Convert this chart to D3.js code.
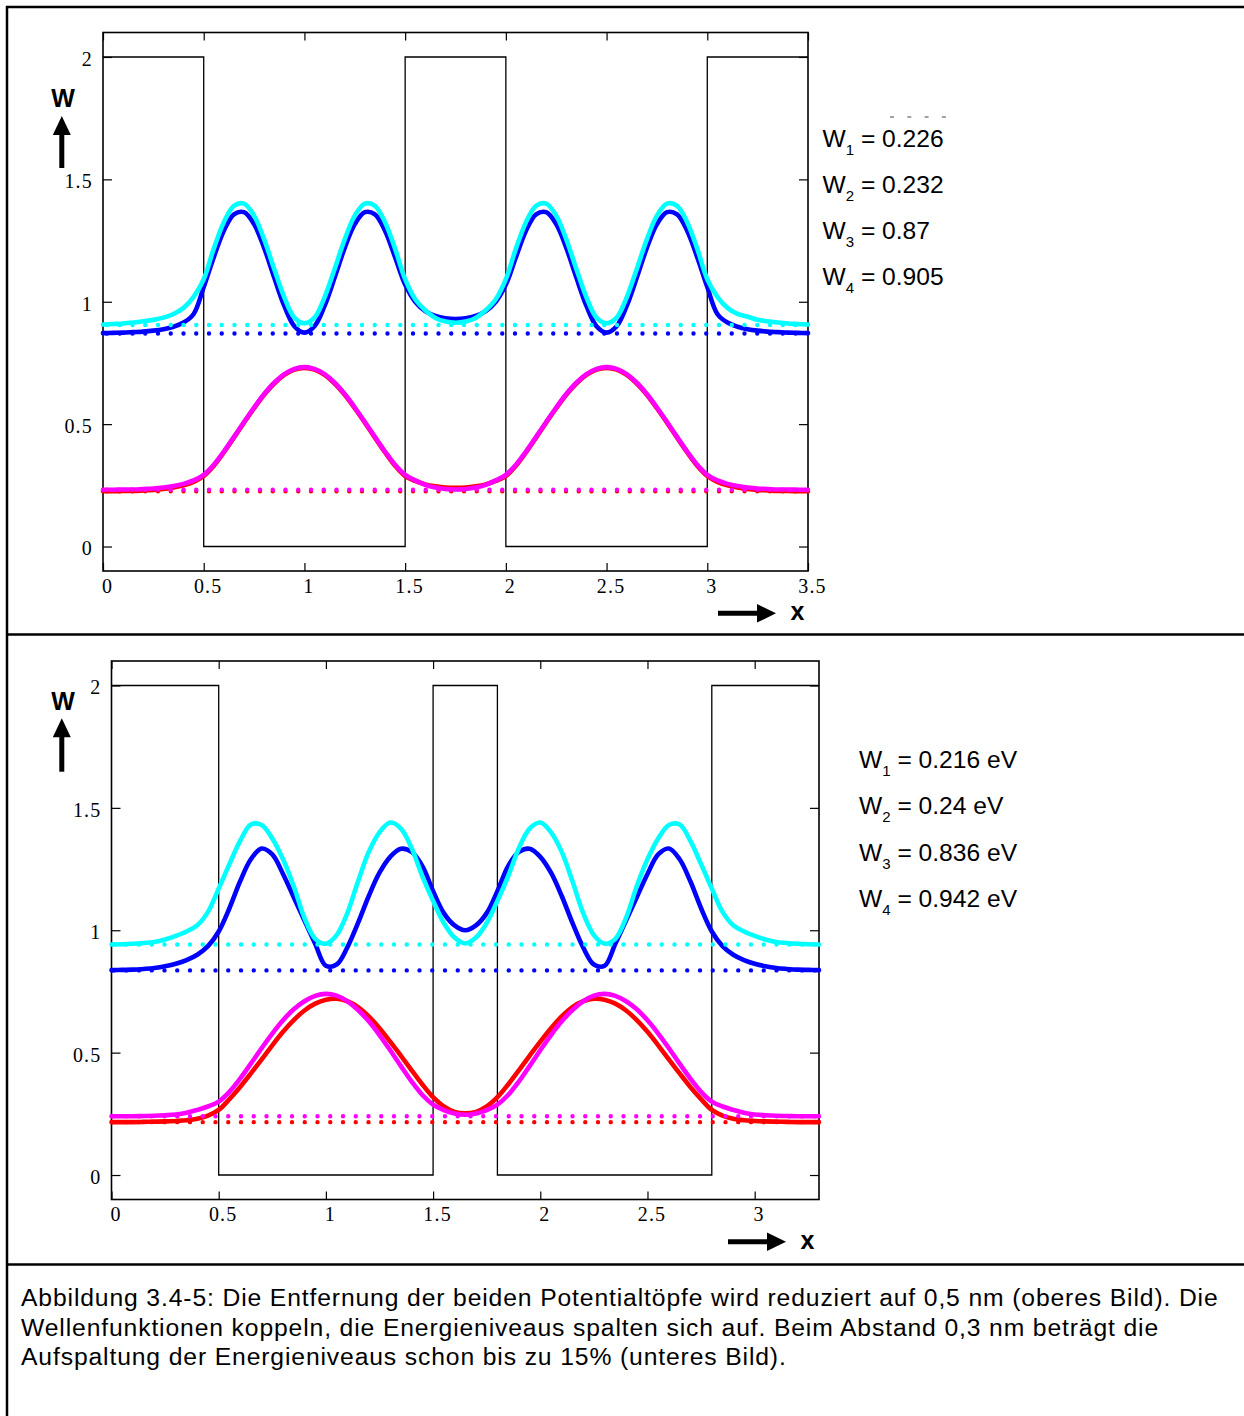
<!DOCTYPE html>
<html><head><meta charset="utf-8">
<script src="https://cdn.jsdelivr.net/npm/d3@7"></script>
<style>
body{margin:0;background:#fff;}
svg{display:block;}
.tick text{font-family:"Liberation Serif","Times New Roman",serif;font-size:20px;letter-spacing:1.2px;fill:#000;}
.tick line{stroke:#000;stroke-width:1.2;}
</style>
</head><body>
<svg id="chart" width="1244" height="1416"></svg>
<script>
// ---------------- data: upper picture (barrier 0.5 nm) ----------------
const topX = [0,0.05,0.1,0.15,0.2,0.25,0.3,0.35,0.4,0.45,0.5,0.55,0.6,0.65,0.7,0.75,0.8,0.85,0.9,0.95,1,
  1.05,1.1,1.15,1.2,1.25,1.3,1.35,1.4,1.45,1.5,1.55,1.6,1.65,1.7,1.75,1.8,1.85,1.9,1.95,2,
  2.05,2.1,2.15,2.2,2.25,2.3,2.35,2.4,2.45,2.5,2.55,2.6,2.65,2.7,2.75,2.8,2.85,2.9,2.95,3,
  3.05,3.1,3.15,3.2,3.25,3.3,3.35,3.4,3.45,3.5];
const topW1 = [0.226,0.226,0.227,0.227,0.229,0.231,0.235,0.241,0.25,0.264,0.288,0.33,0.385,0.445,0.506,0.565,0.62,0.666,0.701,0.723,0.73,
  0.723,0.701,0.666,0.62,0.565,0.506,0.445,0.385,0.33,0.288,0.268,0.254,0.246,0.241,0.24,0.241,0.246,0.254,0.268,0.288,
  0.33,0.385,0.445,0.506,0.565,0.62,0.666,0.701,0.723,0.73,0.723,0.701,0.666,0.62,0.565,0.506,0.445,0.385,0.33,0.288,
  0.264,0.25,0.241,0.235,0.231,0.229,0.227,0.227,0.226,0.226];
const topW2 = [0.232,0.232,0.233,0.233,0.235,0.237,0.241,0.247,0.256,0.27,0.293,0.334,0.388,0.448,0.509,0.568,0.623,0.669,0.704,0.726,0.733,
  0.726,0.704,0.669,0.623,0.568,0.509,0.448,0.388,0.334,0.293,0.27,0.252,0.241,0.235,0.233,0.235,0.241,0.252,0.27,0.293,
  0.334,0.388,0.448,0.509,0.568,0.623,0.669,0.704,0.726,0.733,0.726,0.704,0.669,0.623,0.568,0.509,0.448,0.388,0.334,0.293,
  0.27,0.256,0.247,0.241,0.237,0.235,0.233,0.233,0.232,0.232];
const topW3 = [0.872,0.873,0.874,0.876,0.878,0.882,0.888,0.898,0.915,0.95,1.06,1.182,1.29,1.357,1.366,1.317,1.22,1.099,0.983,0.9,0.874,
  0.9,0.983,1.099,1.22,1.317,1.366,1.357,1.29,1.182,1.07,1.0,0.962,0.942,0.932,0.929,0.932,0.942,0.962,1.0,1.07,
  1.182,1.29,1.357,1.366,1.317,1.22,1.099,0.983,0.9,0.874,0.9,0.983,1.099,1.22,1.317,1.366,1.357,1.29,1.182,1.06,
  0.95,0.915,0.898,0.888,0.882,0.878,0.876,0.874,0.873,0.872];
const topW4 = [0.907,0.909,0.911,0.915,0.92,0.926,0.935,0.95,0.975,1.02,1.092,1.217,1.325,1.392,1.401,1.352,1.255,1.134,1.018,0.935,0.912,
  0.935,1.018,1.134,1.255,1.352,1.401,1.392,1.325,1.217,1.092,1.01,0.965,0.934,0.919,0.914,0.919,0.934,0.965,1.01,1.092,
  1.217,1.325,1.392,1.401,1.352,1.255,1.134,1.018,0.935,0.912,0.935,1.018,1.134,1.255,1.352,1.401,1.392,1.325,1.217,1.092,
  1.02,0.975,0.95,0.939,0.926,0.92,0.915,0.911,0.909,0.907];
const topPotX = [0,0.5,0.5,1.5,1.5,2,2,3,3,3.5];
const topPotW = [2,2,0,0,2,2,0,0,2,2];
const topLevels = [0.226,0.232,0.87,0.905];
const topLegend = ["0.226","0.232","0.87","0.905"];
const topXTicks = [0,0.5,1,1.5,2,2.5,3,3.5];

// ---------------- data: lower picture (barrier 0.3 nm) ----------------
const botX = [0,0.05,0.1,0.15,0.2,0.25,0.3,0.35,0.4,0.45,0.5,0.55,0.6,0.65,0.7,0.75,0.8,0.85,0.9,0.95,1,
  1.05,1.1,1.15,1.2,1.25,1.3,1.35,1.4,1.45,1.5,1.55,1.6,1.65,1.7,1.75,1.8,1.85,1.9,1.95,2,
  2.05,2.1,2.15,2.2,2.25,2.3,2.35,2.4,2.45,2.5,2.55,2.6,2.65,2.7,2.75,2.8,2.85,2.9,2.95,3,
  3.05,3.1,3.15,3.2,3.25,3.3];
const botW1 = [0.216,0.216,0.216,0.217,0.218,0.219,0.221,0.224,0.23,0.243,0.266,0.31,0.36,0.415,0.472,0.53,0.585,0.633,0.672,0.7,0.716,
  0.72,0.71,0.686,0.648,0.6,0.545,0.487,0.428,0.37,0.318,0.28,0.258,0.252,0.258,0.28,0.318,0.37,0.428,0.487,0.545,
  0.6,0.648,0.686,0.71,0.72,0.716,0.7,0.672,0.633,0.585,0.53,0.472,0.415,0.36,0.31,0.266,0.243,0.23,0.224,0.221,
  0.219,0.218,0.217,0.216,0.216,0.216];
const botW2 = [0.24,0.24,0.24,0.241,0.242,0.244,0.247,0.254,0.266,0.28,0.3,0.34,0.394,0.455,0.518,0.578,0.632,0.677,0.71,0.732,0.74,
  0.733,0.71,0.674,0.628,0.572,0.51,0.445,0.382,0.327,0.288,0.265,0.251,0.246,0.251,0.265,0.288,0.327,0.382,0.445,0.51,
  0.572,0.628,0.674,0.71,0.733,0.74,0.732,0.71,0.677,0.632,0.578,0.518,0.455,0.394,0.34,0.3,0.28,0.266,0.254,0.247,
  0.244,0.242,0.241,0.24,0.24,0.24];
const botW3 = [0.837,0.838,0.839,0.842,0.846,0.853,0.863,0.878,0.9,0.935,0.995,1.09,1.2,1.29,1.334,1.31,1.23,1.135,1.04,0.945,0.855,
  0.86,0.93,1.03,1.14,1.235,1.3,1.333,1.32,1.262,1.16,1.07,1.02,1.0,1.02,1.07,1.16,1.262,1.32,1.333,1.3,
  1.235,1.14,1.03,0.93,0.86,0.855,0.945,1.04,1.135,1.23,1.31,1.334,1.29,1.2,1.09,0.995,0.935,0.9,0.878,0.863,
  0.853,0.846,0.842,0.839,0.838,0.837];
const botW4 = [0.942,0.943,0.945,0.948,0.952,0.962,0.977,0.995,1.02,1.075,1.17,1.27,1.365,1.432,1.43,1.375,1.29,1.18,1.05,0.965,0.945,
  0.98,1.07,1.2,1.32,1.4,1.44,1.415,1.335,1.22,1.12,1.03,0.97,0.946,0.97,1.03,1.12,1.22,1.335,1.415,1.44,
  1.4,1.32,1.2,1.07,0.98,0.945,0.965,1.05,1.18,1.29,1.375,1.43,1.432,1.365,1.27,1.17,1.075,1.02,0.995,0.977,
  0.962,0.952,0.948,0.945,0.943,0.942];
const botPotX = [0,0.5,0.5,1.5,1.5,1.8,1.8,2.8,2.8,3.3];
const botPotW = [2,2,0,0,2,2,0,0,2,2];
const botLevels = [0.216,0.24,0.836,0.942];
const botLegend = ["0.216 eV","0.24 eV","0.836 eV","0.942 eV"];
const botXTicks = [0,0.5,1,1.5,2,2.5,3];

const yTicks = [0,0.5,1,1.5,2];
const seriesColors = ["#ff0000","#ff00ff","#0000ff","#00ffff"];
const captionLines = [
  "Abbildung 3.4-5: Die Entfernung der beiden Potentialtöpfe wird reduziert auf 0,5 nm (oberes Bild). Die",
  "Wellenfunktionen koppeln, die Energieniveaus spalten sich auf. Beim Abstand 0,3 nm beträgt die",
  "Aufspaltung der Energieniveaus schon bis zu 15% (unteres Bild)."
];

// ---------------- drawing ----------------
const svg = d3.select("#chart");
svg.append("rect").attr("width",1244).attr("height",1416).attr("fill","#fff");

// outer frame
const frame = svg.append("g").attr("stroke","#000").attr("stroke-width",2.5);
frame.append("line").attr("x1",7).attr("x2",7).attr("y1",6).attr("y2",1416);
frame.append("line").attr("x1",6).attr("x2",1244).attr("y1",7).attr("y2",7);
frame.append("line").attr("x1",6).attr("x2",1244).attr("y1",634.5).attr("y2",634.5);
frame.append("line").attr("x1",6).attr("x2",1244).attr("y1",1264.5).attr("y2",1264.5);

function panel(cfg){
  const x = d3.scaleLinear().domain([0,cfg.xmax]).range([cfg.left,cfg.right]);
  const y = d3.scaleLinear().domain([-0.1,2.1]).range([cfg.bottom,cfg.top]);
  const g = svg.append("g");

  // potential
  g.append("path").datum(cfg.potX.map((v,i)=>[v,cfg.potW[i]]))
    .attr("fill","none").attr("stroke","#000").attr("stroke-width",1.3)
    .attr("d",d3.line().x(d=>x(d[0])).y(d=>y(d[1])));

  // axes
  const xb = g.append("g").attr("transform",`translate(0,${cfg.bottom})`)
    .call(d3.axisBottom(x).tickValues(cfg.xTicks).tickSizeInner(-8).tickSizeOuter(0).tickPadding(7.5).tickFormat(d=>String(d)));
  xb.selectAll("text").attr("dx",4);
  g.append("g").attr("transform",`translate(0,${cfg.top})`)
    .call(d3.axisTop(x).tickValues(cfg.xTicks).tickSizeInner(-8).tickSizeOuter(0).tickFormat(""));
  const yl = g.append("g").attr("transform",`translate(${cfg.left},0)`)
    .call(d3.axisLeft(y).tickValues(yTicks).tickSizeInner(-9).tickSizeOuter(0).tickPadding(10).tickFormat(d=>String(d)));
  yl.selectAll("text").attr("dy","0.42em");
  g.append("g").attr("transform",`translate(${cfg.right},0)`)
    .call(d3.axisRight(y).tickValues(yTicks).tickSizeInner(-9).tickSizeOuter(0).tickFormat(""));
  g.selectAll(".domain").remove();

  // plot frame
  g.append("rect").attr("x",cfg.left).attr("y",cfg.top)
    .attr("width",cfg.right-cfg.left).attr("height",cfg.bottom-cfg.top)
    .attr("fill","none").attr("stroke","#000").attr("stroke-width",1.6);

  // curves
  const line = d3.line().x(d=>x(d[0])).y(d=>y(d[1])).curve(d3.curveCatmullRom.alpha(0.5));
  cfg.series.forEach((s,i)=>{
    g.append("path").datum(cfg.xs.map((v,j)=>[v,s[j]]))
      .attr("fill","none").attr("stroke",seriesColors[i]).attr("stroke-width",4.6)
      .attr("stroke-linejoin","round").attr("stroke-linecap","round")
      .attr("d",line);
  });
  // dotted levels
  cfg.levels.forEach((lv,i)=>{
    g.append("line").attr("x1",x(0)).attr("x2",x(cfg.xmax)).attr("y1",y(lv)).attr("y2",y(lv))
      .attr("stroke",seriesColors[i]).attr("stroke-width",4.4)
      .attr("stroke-linecap","round").attr("stroke-dasharray","0 12.75")
      .attr("stroke-dashoffset",-cfg.dotOffset);
  });

  // legend
  cfg.legend.forEach((t,i)=>{
    const tx = g.append("text").attr("x",cfg.legX).attr("y",cfg.legY+i*cfg.legDy)
      .attr("font-family","'Liberation Sans',Arial,sans-serif").attr("font-size",24.6).attr("fill","#000");
    tx.append("tspan").text("W");
    tx.append("tspan").attr("font-size",15).attr("dy",8).text(String(i+1));
    tx.append("tspan").attr("dy",-8).text(" = " + t);
  });

  // axis name labels with arrows
  g.append("text").attr("x",63).attr("y",cfg.wY).attr("text-anchor","middle")
    .attr("font-family","'Liberation Sans',Arial,sans-serif").attr("font-weight","bold").attr("font-size",25).text("W");
  g.append("line").attr("x1",61.8).attr("x2",61.8).attr("y1",cfg.upTip+16).attr("y2",cfg.upEnd)
    .attr("stroke","#000").attr("stroke-width",5);
  g.append("path").attr("d",`M61.8,${cfg.upTip} L52.8,${cfg.upTip+19} L70.8,${cfg.upTip+19} Z`).attr("fill","#000");

  g.append("line").attr("x1",cfg.rStart).attr("x2",cfg.rTip-17).attr("y1",cfg.rY).attr("y2",cfg.rY)
    .attr("stroke","#000").attr("stroke-width",5);
  g.append("path").attr("d",`M${cfg.rTip},${cfg.rY} L${cfg.rTip-19},${cfg.rY-9.3} L${cfg.rTip-19},${cfg.rY+9.3} Z`).attr("fill","#000");
  g.append("text").attr("x",cfg.xLabX).attr("y",cfg.xLabY)
    .attr("font-family","'Liberation Sans',Arial,sans-serif").attr("font-weight","bold").attr("font-size",25).text("x");
  return {x,y};
}

panel({
  xmax:3.5, left:103, right:808, top:32.5, bottom:571,
  potX:topPotX, potW:topPotW, xTicks:topXTicks, xs:topX,
  series:[topW1,topW2,topW3,topW4], levels:topLevels, dotOffset:4,
  legend:topLegend, legX:822.5, legY:147.3, legDy:46,
  wY:107, upTip:116, upEnd:168,
  rStart:718, rTip:776, rY:613.3, xLabX:790.5, xLabY:620
});
panel({
  xmax:3.3, left:111.5, right:819, top:661, bottom:1199.5,
  potX:botPotX, potW:botPotW, xTicks:botXTicks, xs:botX,
  series:[botW1,botW2,botW3,botW4], levels:botLevels, dotOffset:2,
  legend:botLegend, legX:859, legY:768.3, legDy:46.1,
  wY:710, upTip:718.3, upEnd:771.7,
  rStart:728, rTip:786, rY:1241.7, xLabX:800.5, xLabY:1248.5
});

// small clipped marks above top legend
svg.append("line").attr("x1",890).attr("x2",946).attr("y1",117).attr("y2",117)
  .attr("stroke","#444").attr("stroke-width",1.2).attr("stroke-dasharray","4 13.3");

// caption
const cap = svg.append("g").attr("font-family","'Liberation Sans',Arial,sans-serif")
  .attr("font-size",24.7).attr("letter-spacing","0.87px").attr("fill","#000");
captionLines.forEach((t,i)=>{
  cap.append("text").attr("x",21).attr("y",1306+i*29.6).text(t);
});
</script>
</body></html>
